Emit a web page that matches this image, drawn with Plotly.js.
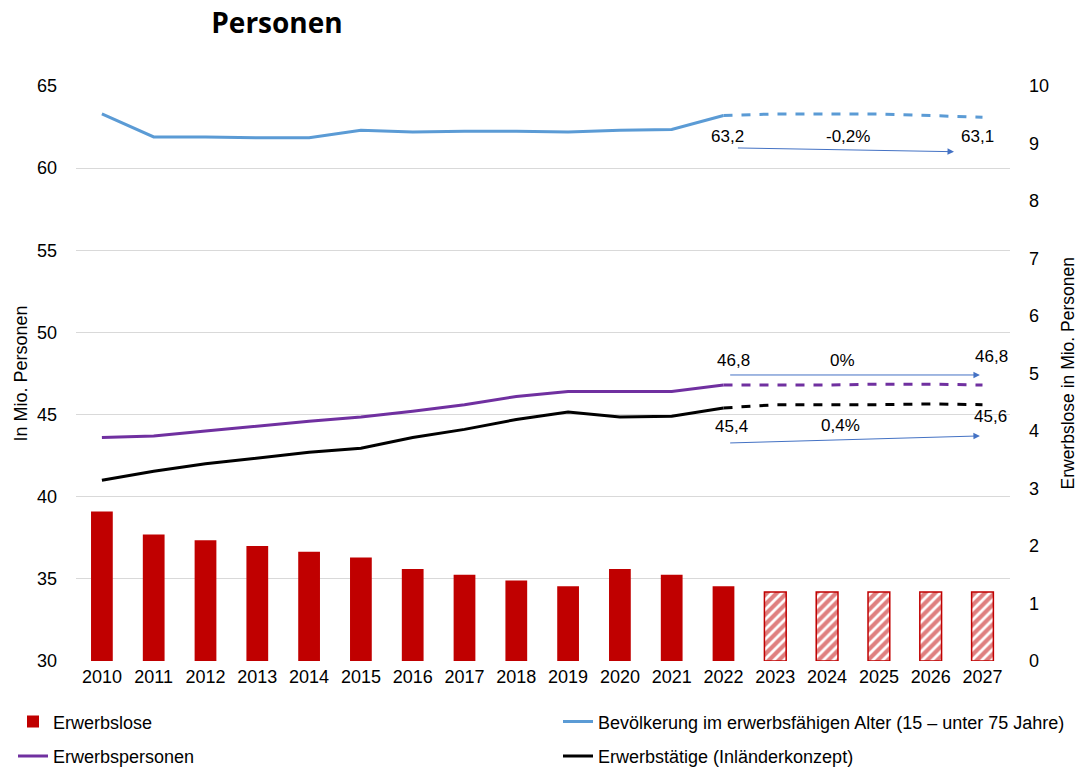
<!DOCTYPE html>
<html>
<head>
<meta charset="utf-8">
<script src="https://cdn.plot.ly/plotly-3.0.1.min.js"></script>
<style>html,body{margin:0;padding:0;background:#fff;}#chart{width:1078px;height:767px;}</style>
</head>
<body>
<div id="chart"></div>
<script>
const years = ['2010','2011','2012','2013','2014','2015','2016','2017','2018','2019','2020','2021','2022','2023','2024','2025','2026','2027'];
const erwerbslose = [2.6, 2.2, 2.1, 2.0, 1.9, 1.8, 1.6, 1.5, 1.4, 1.3, 1.6, 1.5, 1.3, 1.2, 1.2, 1.2, 1.2, 1.2];
const bevoelkerung = [63.3, 61.9, 61.9, 61.85, 61.85, 62.3, 62.2, 62.25, 62.25, 62.2, 62.3, 62.35, 63.2, 63.3, 63.3, 63.3, 63.2, 63.1];
const erwerbspersonen = [43.6, 43.7, 44.0, 44.3, 44.6, 44.85, 45.2, 45.6, 46.1, 46.4, 46.4, 46.4, 46.8, 46.8, 46.8, 46.85, 46.85, 46.8];
const erwerbstaetige = [41.0, 41.55, 42.0, 42.35, 42.7, 42.95, 43.6, 44.1, 44.7, 45.15, 44.85, 44.9, 45.4, 45.6, 45.6, 45.6, 45.65, 45.6];
const lastActual = 12; // index of 2022
const changeLabels = ['-0,2%', '0%', '0,4%'];

const fmt = v => v.toFixed(1).replace('.', ',');
const idxAll = years.map((y,i)=>i);
const histIdx = idxAll.filter(i=>i<=lastActual);
const progIdx = idxAll.filter(i=>i>=lastActual);
const barProg = idxAll.filter(i=>i>lastActual);
const pick = (arr, idx) => idx.map(i=>arr[i]);

const FONT = 'Liberation Sans, Arial, sans-serif';
const blue = '#5B9BD5', purple = '#7030A0', black = '#000000', red = '#C00000';

const traces = [
  {type:'bar', name:'Erwerbslose', legend:'legend', legendgroup:'a', x:pick(years,histIdx), y:pick(erwerbslose,histIdx), yaxis:'y2', width:0.42,
   marker:{color:red, line:{width:0}}},
  {type:'scatter', mode:'lines', name:'Erwerbspersonen', legend:'legend', legendgroup:'b', x:pick(years,histIdx), y:pick(erwerbspersonen,histIdx), line:{color:purple,width:3}},
  {type:'scatter', mode:'lines', name:'Bevölkerung im erwerbsfähigen Alter (15 – unter 75 Jahre)', legend:'legend2', legendgroup:'c', x:pick(years,histIdx), y:pick(bevoelkerung,histIdx), line:{color:blue,width:3}},
  {type:'scatter', mode:'lines', name:'Erwerbstätige (Inländerkonzept)', legend:'legend2', legendgroup:'d', x:pick(years,histIdx), y:pick(erwerbstaetige,histIdx), line:{color:black,width:3}},
  {type:'bar', name:'Erwerbslose (Prognose)', showlegend:false, x:pick(years,barProg), y:pick(erwerbslose,barProg), yaxis:'y2', width:0.42,
   marker:{color:'#ffffff', line:{color:red, width:1.5}, pattern:{shape:'/', fgcolor:red, bgcolor:'#ffffff', size:7, solidity:0.6, fillmode:'overlay'}}},
  {type:'scatter', mode:'lines', showlegend:false, x:pick(years,progIdx), y:pick(bevoelkerung,progIdx), line:{color:blue,width:3,dash:'dash'}},
  {type:'scatter', mode:'lines', showlegend:false, x:pick(years,progIdx), y:pick(erwerbspersonen,progIdx), line:{color:purple,width:3,dash:'dash'}},
  {type:'scatter', mode:'lines', showlegend:false, x:pick(years,progIdx), y:pick(erwerbstaetige,progIdx), line:{color:black,width:3,dash:'dash'}}
];

const n = years.length - 1;
const txt = (x, y, text, xshift) => ({x:x, y:y, xref:'x', yref:'y', text:text, showarrow:false, xshift:xshift||0, font:{family:FONT,size:17,color:'#000'}});
const arrow = (x0,y0,x1,y1) => ({x:x1, y:y1, ax:x0, ay:y0, xref:'x', yref:'y', axref:'x', ayref:'y', text:'', showarrow:true, arrowhead:2, arrowsize:1.3, arrowwidth:1, arrowcolor:'#4472C4'});

const annotations = [
  txt(12.5, 61.95, fmt(bevoelkerung[lastActual]), -22),
  txt(14.4, 61.95, changeLabels[0]),
  txt(n, 61.95, fmt(bevoelkerung[n]), -5),
  arrow(12.25, 61.23, 16.45, 61.0),
  txt(12.5, 48.3, fmt(erwerbspersonen[lastActual]), -16),
  txt(14.3, 48.3, changeLabels[1]),
  txt(n, 48.55, fmt(erwerbspersonen[n]), 9),
  arrow(12.1, 47.41, 16.95, 47.41),
  txt(12.5, 44.3, fmt(erwerbstaetige[lastActual]), -18),
  txt(14.25, 44.35, changeLabels[2]),
  txt(n, 44.9, fmt(erwerbstaetige[n]), 8),
  arrow(12.1, 43.27, 16.95, 43.70),
  // axis titles
  {xref:'paper', yref:'paper', x:(20-76)/934, y:0.5, text:'In Mio. Personen', textangle:-90, showarrow:false, xanchor:'center', yanchor:'middle', font:{family:FONT,size:18,color:'#000'}},
  {xref:'paper', yref:'paper', x:(1067-76)/934, y:0.5, text:'Erwerbslose in Mio. Personen', textangle:-90, showarrow:false, xanchor:'center', yanchor:'middle', font:{family:FONT,size:17.5,color:'#000'}}
];

const legendBase = {orientation:'v', traceorder:'grouped', xref:'container', yref:'container', y:0.083, yanchor:'top', xanchor:'left',
  font:{family:FONT,size:18,color:'#000'}, itemwidth:30, tracegroupgap:8, bgcolor:'rgba(0,0,0,0)'};

const layout = {
  width:1078, height:767,
  margin:{l:76, r:68, t:86, b:106, autoexpand:false},
  paper_bgcolor:'#fff', plot_bgcolor:'#fff',
  font:{family:FONT, size:16, color:'#000'},
  title:{text:'<b>Personen</b>', x:277/1078, xref:'container', xanchor:'center', y:0.97, yanchor:'middle', font:{family:'Open Sans, sans-serif', size:28, color:'#000'}},
  showlegend:true,
  legend:Object.assign({}, legendBase, {x:13/1078}),
  legend2:Object.assign({}, legendBase, {x:558/1078}),
  xaxis:{type:'category', showgrid:false, showline:false, ticks:'', tickfont:{family:FONT,size:18,color:'#000'}, ticklabelstandoff:3, tickangle:0},
  yaxis:{range:[30,65], dtick:5, showgrid:true, gridcolor:'#D9D9D9', gridwidth:1, zeroline:false, showline:false, ticks:'',
         tickfont:{family:FONT,size:18,color:'#000'}, ticklabelstandoff:18},
  yaxis2:{range:[0,10], dtick:1, overlaying:'y', side:'right', showgrid:false, zeroline:false, showline:false, ticks:'',
          tickfont:{family:FONT,size:18,color:'#000'}, ticklabelstandoff:18},
  annotations:annotations
};

Plotly.newPlot('chart', traces, layout, {displayModeBar:false, staticPlot:true});
</script>
</body>
</html>
